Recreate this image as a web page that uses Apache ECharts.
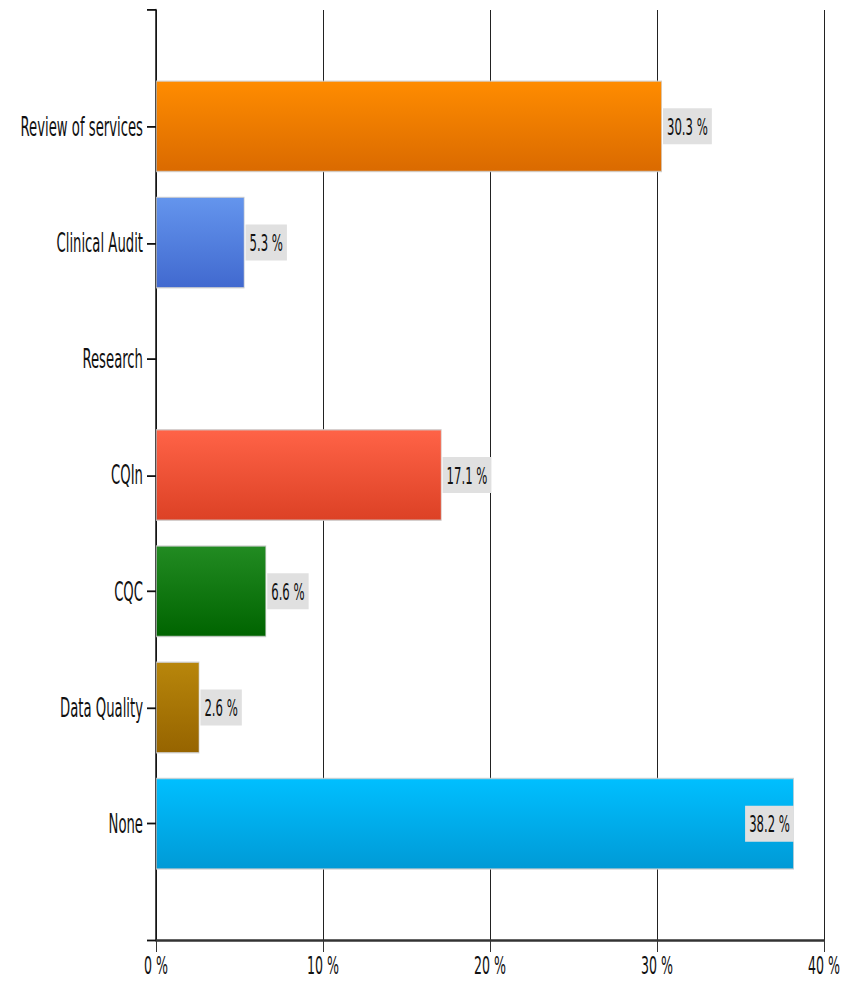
<!DOCTYPE html>
<html>
<head>
<meta charset="utf-8">
<script src="https://cdn.jsdelivr.net/npm/echarts@6/dist/echarts.min.js"></script>
<style>
  html, body { margin: 0; padding: 0; background: #fff; }
  body { width: 847px; height: 981px; }
  /* the chart is laid out short and stretched vertically to fill the page */
  #chart { width: 847px; height: 545px; transform: scaleY(1.8); transform-origin: 0 0; }
</style>
</head>
<body>
<div id="chart"></div>
<script>
// Categories, top to bottom; blank entries pad the axis ends
const categories = ['', 'Review of services', 'Clinical Audit', 'Research', 'CQIn', 'CQC', 'Data Quality', 'None', ''];
// Share of responses, percent
const values = ['-', 30.3, 5.3, 0, 17.1, 6.6, 2.6, 38.2, '-'];
// Gradient colours per bar: [top, bottom]
const barColors = [
  null,
  ['#ff8c00', '#da6a00'],
  ['#6495ed', '#4169cf'],
  null,
  ['#ff6347', '#dc4125'],
  ['#228b22', '#006400'],
  ['#b8860b', '#966400'],
  ['#00bfff', '#009ad6'],
  null
];
const xTicks = { min: 0, max: 40, interval: 10 };

const FONT = "'Liberation Sans Narrow', 'DejaVu Sans Condensed', sans-serif";

const seriesData = values.map((v, i) => {
  const c = barColors[i];
  const item = { value: v };
  if (c) {
    item.itemStyle = {
      color: new echarts.graphic.LinearGradient(0, 0, 0, 1, [
        { offset: 0, color: c[0] },
        { offset: 1, color: c[1] }
      ])
    };
  } else {
    item.itemStyle = { borderWidth: 0, color: 'transparent' };
  }
  if (v === 0 || v === '-') {
    item.label = { show: false };
  } else if (v > 35) {
    item.label = { position: 'insideRight', distance: 0 };
  }
  return item;
});

const chart = echarts.init(document.getElementById('chart'), null, { renderer: 'svg' });
chart.setOption({
  animation: false,
  backgroundColor: '#ffffff',
  grid: { left: 156, right: 23, top: 5.6, bottom: 22.8, containLabel: false },
  xAxis: {
    type: 'value',
    min: xTicks.min,
    max: xTicks.max,
    interval: xTicks.interval,
    axisLine: { show: true, lineStyle: { color: '#333', width: 1.4 } },
    axisTick: { show: true, length: 6.7, lineStyle: { color: '#333', width: 1 } },
    axisLabel: {
      formatter: '{value} %',
      color: '#111',
      fontFamily: FONT,
      fontSize: 14,
      margin: 7
    },
    splitLine: { show: true, lineStyle: { color: '#222', width: 1 } }
  },
  yAxis: {
    type: 'category',
    data: categories,
    inverse: true,
    boundaryGap: false,
    axisLine: { show: true, lineStyle: { color: '#111', width: 1.5 } },
    axisTick: { show: true, length: 9, interval: 0, lineStyle: { color: '#111', width: 1 } },
    axisLabel: {
      interval: 0,
      color: '#111',
      fontFamily: FONT,
      fontSize: 14.7,
      margin: 13
    },
    splitLine: { show: false }
  },
  series: [{
    type: 'bar',
    data: seriesData,
    barWidth: 51,
    itemStyle: {
      borderColor: 'rgba(205,205,205,0.8)',
      borderWidth: 0.8
    },
    label: {
      show: true,
      position: 'right',
      distance: 1,
      formatter: p => p.value + ' %',
      color: '#111',
      fontFamily: FONT,
      fontSize: 13,
      backgroundColor: '#e0e0e0',
      padding: [3.5, 4, 3.5, 4]
    }
  }]
});
</script>
</body>
</html>
